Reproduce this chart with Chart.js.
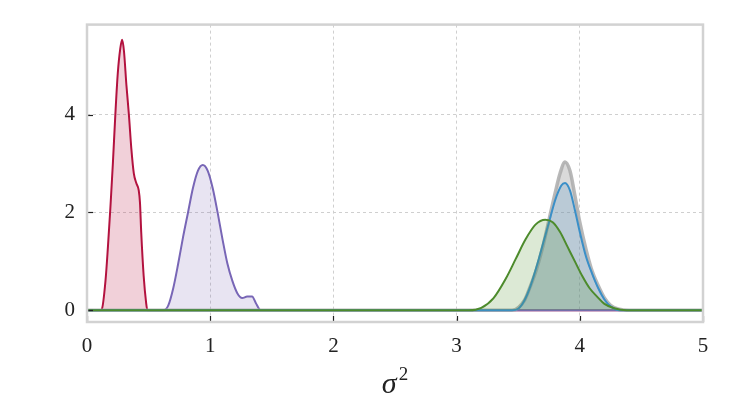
<!DOCTYPE html>
<html>
<head>
<meta charset="utf-8">
<script src="https://cdn.jsdelivr.net/npm/chart.js@4"></script>
<style>
html,body{margin:0;padding:0;background:#fff;}
#wrap{width:730px;height:418px;position:relative;}
</style>
</head>
<body>
<div id="wrap"><canvas id="c" width="730" height="418"></canvas></div>
<script>
// ---- data ----
const xTicks = [0, 1, 2, 3, 4, 5];
const yTicks = [0, 2, 4];

const redX   = [0, 0.10, 0.12, 0.15, 0.17, 0.19, 0.21, 0.23, 0.25, 0.27, 0.285, 0.30, 0.32, 0.34, 0.36, 0.38, 0.40, 0.42, 0.43, 0.44, 0.46, 0.48, 0.49, 5];
const redY   = [0, 0, 0.02, 0.6, 1.3, 2.1, 3.0, 4.0, 4.85, 5.35, 5.53, 5.3, 4.6, 4.0, 3.3, 2.8, 2.6, 2.45, 2.2, 1.6, 0.7, 0.15, 0, 0];

const purpleX = [0, 0.62, 0.66, 0.70, 0.74, 0.78, 0.82, 0.86, 0.90, 0.94, 0.98, 1.02, 1.06, 1.10, 1.14, 1.18, 1.22, 1.26, 1.30, 1.34, 1.37, 1.41, 5];
const purpleY = [0, 0, 0.1, 0.45, 0.95, 1.5, 2.0, 2.5, 2.85, 2.97, 2.85, 2.5, 2.0, 1.45, 0.95, 0.6, 0.35, 0.25, 0.28, 0.28, 0.15, 0, 0];

const grayX  = [0, 3.45, 3.55, 3.60, 3.65, 3.70, 3.75, 3.80, 3.84, 3.88, 3.92, 3.96, 4.00, 4.05, 4.10, 4.15, 4.20, 4.25, 4.32, 4.40, 5];
const grayY  = [0, 0, 0.2, 0.5, 0.85, 1.3, 1.85, 2.4, 2.8, 3.03, 2.85, 2.35, 1.8, 1.25, 0.8, 0.5, 0.25, 0.1, 0.02, 0, 0];

const blueX  = [0, 3.45, 3.50, 3.55, 3.60, 3.65, 3.70, 3.75, 3.80, 3.85, 3.88, 3.92, 3.96, 4.00, 4.05, 4.10, 4.15, 4.20, 4.25, 4.32, 5];
const blueY  = [0, 0, 0.03, 0.2, 0.5, 0.9, 1.35, 1.8, 2.25, 2.55, 2.6, 2.45, 2.05, 1.6, 1.1, 0.75, 0.45, 0.22, 0.08, 0, 0];

const greenX = [0, 3.10, 3.20, 3.30, 3.40, 3.48, 3.56, 3.64, 3.72, 3.78, 3.84, 3.90, 3.96, 4.02, 4.08, 4.14, 4.20, 4.28, 4.38, 5];
const greenY = [0, 0, 0.05, 0.25, 0.65, 1.05, 1.45, 1.75, 1.85, 1.8, 1.6, 1.3, 1.0, 0.7, 0.45, 0.28, 0.13, 0.04, 0, 0];

const xLabelBase = 'σ';
const xLabelSup = '2';

function pts(xs, ys){ return xs.map((x,i)=>({x:x, y:ys[i]})); }

const PLOT = {left:87, right:703, top:18, bottom:322};

const framePlugin = {
  id:'frame',
  afterDatasetsDraw(chart){
    const ctx = chart.ctx, a = chart.chartArea;
    const xs = chart.scales.x, ys = chart.scales.y;
    ctx.save();
    // inward ticks
    ctx.strokeStyle = '#222';
    ctx.lineWidth = 1.2;
    xTicks.forEach(v=>{
      const px = Math.round(xs.getPixelForValue(v))+0.5;
      ctx.beginPath(); ctx.moveTo(px, a.bottom); ctx.lineTo(px, a.bottom-6); ctx.stroke();
    });
    yTicks.forEach(v=>{
      const py = Math.round(ys.getPixelForValue(v))+0.5;
      ctx.beginPath(); ctx.moveTo(a.left, py); ctx.lineTo(a.left+6, py); ctx.stroke();
    });
    // frame
    ctx.strokeStyle = '#d2d2d2';
    ctx.lineWidth = 2.5;
    ctx.strokeRect(a.left, a.top, a.right-a.left, a.bottom-a.top);
    // x axis label (sigma squared)
    const cx = (a.left + a.right)/2;
    ctx.fillStyle = '#222';
    ctx.textBaseline = 'alphabetic';
    ctx.textAlign = 'left';
    ctx.font = 'italic 30px "Liberation Serif"';
    const w = ctx.measureText(xLabelBase).width;
    ctx.font = '19px "Liberation Serif"';
    const w2 = ctx.measureText(xLabelSup).width;
    const x0 = cx - (w + w2 + 2)/2;
    ctx.font = 'italic 30px "Liberation Serif"';
    ctx.fillText(xLabelBase, x0, 393);
    ctx.font = '19px "Liberation Serif"';
    ctx.fillText(xLabelSup, x0 + w + 2, 380);
    ctx.restore();
  }
};

const ds = (label, xs, ys, color, fill, order, extra) => Object.assign({
  label, data: pts(xs, ys), borderColor: color, backgroundColor: fill,
  fill: 'origin', borderWidth: 2, pointRadius: 0, cubicInterpolationMode: 'monotone', order
}, extra||{});

new Chart(document.getElementById('c'), {
  type: 'line',
  data: {
    datasets: [
      ds('red', redX, redY, '#b3123f', 'rgba(190,40,80,0.22)', 4),
      ds('purple', purpleX, purpleY, '#7866b6', 'rgba(125,108,185,0.18)', 3),
      ds('gray', grayX, grayY, 'rgba(172,172,172,0.85)', 'rgba(150,150,150,0.35)', 2, {borderWidth: 3.5}),
      ds('blue', blueX, blueY, '#3a8fc8', 'rgba(60,140,200,0.2)', 1),
      ds('green', greenX, greenY, '#4d8b2c', 'rgba(80,145,45,0.2)', 0)
    ]
  },
  options: {
    responsive: false,
    animation: false,
    events: [],
    layout: { padding: { top: PLOT.top, right: 730-PLOT.right, left: 0, bottom: 0 } },
    plugins: { legend: { display: false }, tooltip: { enabled: false } },
    scales: {
      x: {
        type: 'linear', min: 0, max: 5,
        afterBuildTicks(s){ s.ticks = xTicks.map(v=>({value:v})); },
        afterFit(s){ s.height = 418 - PLOT.bottom; },
        grid: { color: '#cfcfcf', lineWidth: 1, drawTicks: false, tickLength: 0 },
        border: { display: false, dash: [3,3] },
        ticks: { color: '#222', padding: 12, font: { family: 'Liberation Serif', size: 21 } }
      },
      y: {
        type: 'linear', min: -0.24, max: 5.84,
        afterBuildTicks(s){ s.ticks = yTicks.map(v=>({value:v})); },
        afterFit(s){ s.width = PLOT.left; },
        grid: { color: '#cfcfcf', lineWidth: 1, drawTicks: false, tickLength: 0 },
        border: { display: false, dash: [3,3] },
        ticks: { color: '#222', padding: 12, font: { family: 'Liberation Serif', size: 21 } }
      }
    }
  },
  plugins: [framePlugin]
});
</script>
</body>
</html>
